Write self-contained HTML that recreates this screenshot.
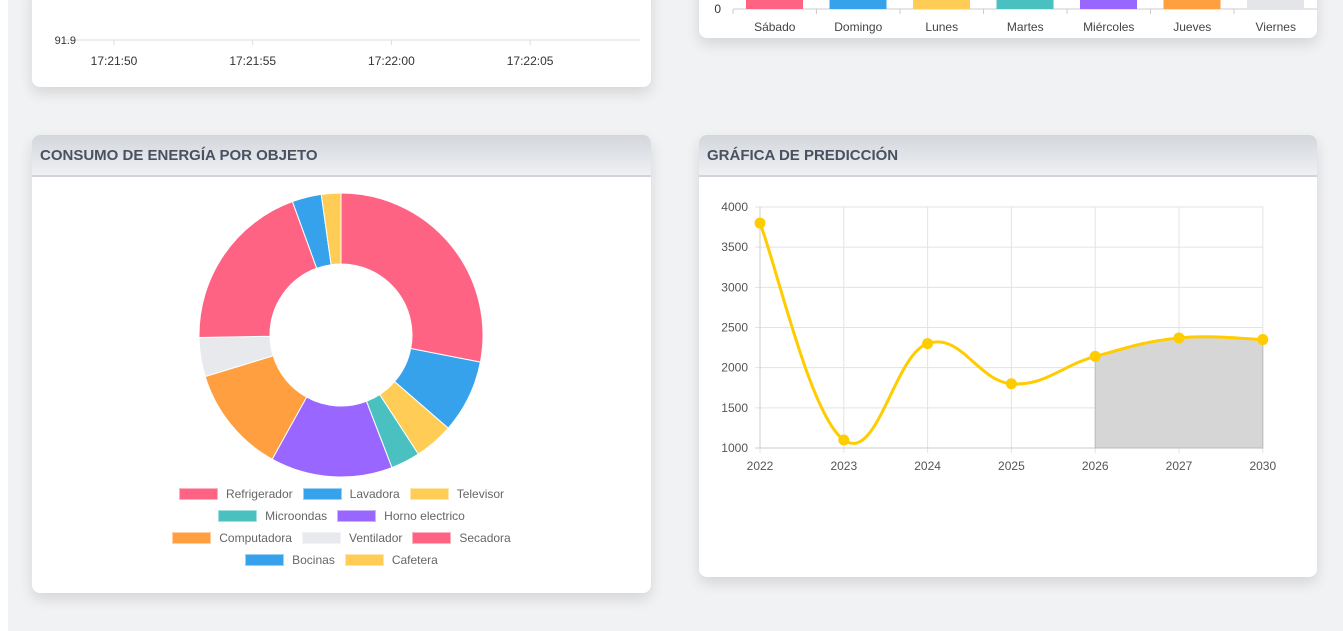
<!DOCTYPE html>
<html><head><meta charset="utf-8">
<style>
body{margin:0;width:1343px;height:631px;overflow:hidden;background:#fff;font-family:"Liberation Sans",sans-serif;position:relative}
.bg{position:absolute;left:8px;top:0;width:1335px;height:631px;background:#f1f2f4}
.card{position:absolute;background:#fff;border-radius:8px;box-shadow:0 6px 14px rgba(0,0,0,0.12);overflow:hidden}
.hdr{height:40px;background:linear-gradient(#d3d6dc,#eef0f3);border-bottom:2px solid #d0d3da;font-weight:bold;font-size:15px;color:#4a5260;line-height:42px;padding-left:8px}
svg text{font-family:"Liberation Sans",sans-serif}
.leg{position:absolute;left:0;width:619px;display:flex;justify-content:center;font-size:12px;color:#666;height:14px;line-height:14px}
.li{display:flex;align-items:center;margin:0 5px}
.sw{width:37px;height:10px;margin-right:8px;border:1px solid rgba(255,255,255,.5)}
</style></head><body>
<div class="bg"></div>

<div class="card" style="left:32px;top:-20px;width:619px;height:107px">
<svg width="619" height="107">
<line x1="32" y1="60" x2="608" y2="60" stroke="#ddd"/>
<text x="44" y="64" font-size="11" fill="#333" text-anchor="end">91.9</text>
<g id="tl" font-size="12" fill="#333" text-anchor="middle"></g>
</svg></div>

<div class="card" style="left:699px;top:-20px;width:618px;height:58px">
<svg width="618" height="58" id="bars">
<line x1="34" y1="29" x2="618" y2="29" stroke="#ccc"/>
<text x="22" y="33" font-size="12" fill="#333" text-anchor="end">0</text>
</svg></div>

<div class="card" style="left:32px;top:135px;width:619px;height:458px">
<div class="hdr">CONSUMO DE ENERGÍA POR OBJETO</div>
<svg width="619" height="300" style="position:absolute;left:0;top:42px" id="donut"></svg>
<div id="legend"></div>
</div>

<div class="card" style="left:699px;top:135px;width:618px;height:442px">
<div class="hdr">GRÁFICA DE PREDICCIÓN</div>
<svg width="618" height="400" style="position:absolute;left:0;top:0" id="line"></svg>
</div>

<script>
const NS="http://www.w3.org/2000/svg";
function mk(p,t,a){const e=document.createElementNS(NS,t);for(const k in a)e.setAttribute(k,a[k]);p.appendChild(e);return e;}

const timeLabels=["17:21:50","17:21:55","17:22:00","17:22:05"];
const tl=document.getElementById('tl');
timeLabels.forEach((s,i)=>{const x=82+i*138.7;
 const l=mk(tl,'line',{x1:x,y1:60,x2:x,y2:65,stroke:'#ddd'});
 
 
 const t=mk(tl,'text',{x:x,y:85});t.textContent=s;
 
 });

const days=["Sábado","Domingo","Lunes","Martes","Miércoles","Jueves","Viernes"];
const dayColors=["#ff6384","#36a2eb","#ffcd56","#4bc0c0","#9966ff","#ff9f40","#e4e5e8"];
const bs=document.getElementById('bars');const cw=83.5;
days.forEach((d,i)=>{const x0=34+i*cw;
 mk(bs,'line',{x1:x0,y1:29,x2:x0,y2:34,stroke:'#ccc'});
 const r=mk(bs,'rect',{x:x0+13,y:0,width:57,height:29,fill:dayColors[i]});
 
 
 const t=mk(bs,'text',{x:x0+cw/2,y:51,'font-size':12,fill:'#444','text-anchor':'middle'});t.textContent=d;
 
 });

const objects=["Refrigerador","Lavadora","Televisor","Microondas","Horno electrico","Computadora","Ventilador","Secadora","Bocinas","Cafetera"];
const consumption=[101,30,16,12,50,44,16,71,12,8];
const objColors=["#ff6384","#36a2eb","#ffcd56","#4bc0c0","#9966ff","#ff9f40","#e7e9ed","#ff6384","#36a2eb","#ffcd56"];
const dn=document.getElementById('donut');
const cx=309,cy=158,R=142,r0=71;
const tot=consumption.reduce((a,b)=>a+b,0);let acc=0;
function pt(a,rad){return [cx+rad*Math.sin(a),cy-rad*Math.cos(a)];}
consumption.forEach((v,i)=>{const a0=acc/tot*2*Math.PI;acc+=v;const a1=acc/tot*2*Math.PI;
 const lg=(a1-a0)>Math.PI?1:0;const p1=pt(a0,R),p2=pt(a1,R),p3=pt(a1,r0),p4=pt(a0,r0);
 const p=mk(dn,'path',{d:`M${p1}A${R},${R} 0 ${lg} 1 ${p2}L${p3}A${r0},${r0} 0 ${lg} 0 ${p4}Z`,fill:objColors[i],stroke:'#fff','stroke-width':1});
 
 });
const rows=[[0,1,2],[3,4],[5,6,7],[8,9]];
const lgd=document.getElementById('legend');
rows.forEach((row,ri)=>{const d=document.createElement('div');d.className='leg';d.style.top=(352+ri*22)+'px';
 
 
 row.forEach(i=>{const it=document.createElement('div');it.className='li';
  
  
  it.innerHTML=`<span class="sw" style="background:${objColors[i]}"></span>${objects[i]}`;d.appendChild(it);});
 lgd.appendChild(d);});

const years=["2022","2023","2024","2025","2026","2027","2030"];
const prediction=[3800,1100,2300,1800,2140,2370,2350];
const yTicks=[1000,1500,2000,2500,3000,3500,4000];
const ls=document.getElementById('line');
const X=i=>61+i*83.8;
const Yc=v=>313-(v-1000)/3000*241;
yTicks.forEach(v=>{mk(ls,'line',{x1:56,y1:Yc(v),x2:564,y2:Yc(v),stroke:'#e3e3e3'});
 const t=mk(ls,'text',{x:49,y:Yc(v)+4,'font-size':12,fill:'#555','text-anchor':'end'});t.textContent=v;
 
 });
years.forEach((y,i)=>{mk(ls,'line',{x1:X(i),y1:72,x2:X(i),y2:318,stroke:'#e3e3e3'});
 const t=mk(ls,'text',{x:X(i),y:335,'font-size':12,fill:'#555','text-anchor':'middle'});t.textContent=y;
 
 });
mk(ls,'line',{x1:X(0),y1:72,x2:X(0),y2:313,stroke:'#ccc'});
mk(ls,'line',{x1:56,y1:313,x2:564,y2:313,stroke:'#ccc'});
const P=prediction.map((v,i)=>[X(i),Yc(v)]);
function seg(i){const t=0.4;const p0=P[Math.max(i-1,0)],p1=P[i],p2=P[i+1],p3=P[Math.min(i+2,P.length-1)];
 const c1=[p1[0]+(p2[0]-p0[0])*t/2,p1[1]+(p2[1]-p0[1])*t/2],c2=[p2[0]-(p3[0]-p1[0])*t/2,p2[1]-(p3[1]-p1[1])*t/2];
 return `C${c1} ${c2} ${p2}`;}
let fd=`M${P[4]}`;for(let i=4;i<P.length-1;i++)fd+=seg(i);fd+=`L${P[6][0]},313L${P[4][0]},313Z`;
const fa=mk(ls,'path',{d:fd,fill:'#d6d6d6',stroke:'#bbb'});


let d=`M${P[0]}`;for(let i=0;i<P.length-1;i++)d+=seg(i);
const ln=mk(ls,'path',{d:d,fill:'none',stroke:'#ffcc00','stroke-width':3});


P.forEach(p=>{const c=mk(ls,'circle',{cx:p[0],cy:p[1],r:5.5,fill:'#ffcc00'});
 
 });
</script>
</body></html>
